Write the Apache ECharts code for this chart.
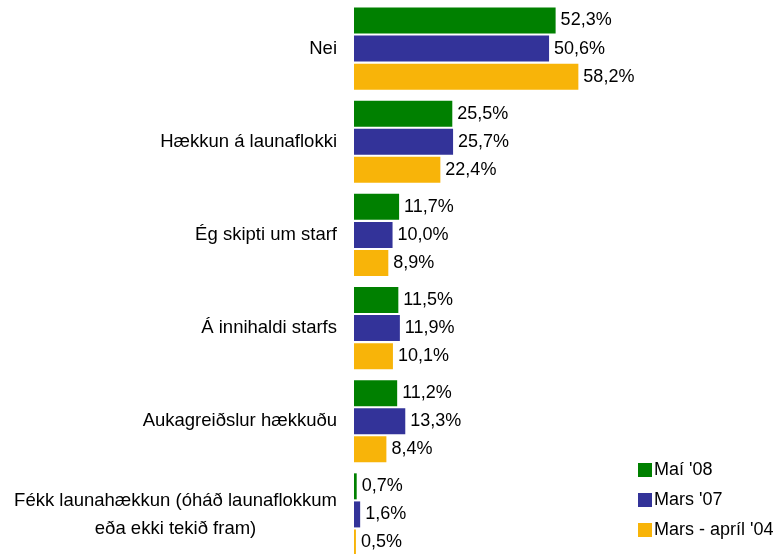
<!DOCTYPE html>
<html>
<head>
<meta charset="utf-8">
<script src="https://cdn.jsdelivr.net/npm/echarts@6/dist/echarts.min.js"></script>
<style>html,body{margin:0;padding:0;background:#fff;overflow:hidden}#c{width:779px;height:562px}</style>
</head>
<body>
<div id="c"></div>
<script>
var categories = [
  "Nei",
  "Hækkun á launaflokki",
  "Ég skipti um starf",
  "Á innihaldi starfs",
  "Aukagreiðslur hækkuðu",
  "Fékk launahækkun (óháð launaflokkum\neða ekki tekið fram)"
];
var seriesNames = ["Maí '08", "Mars '07", "Mars - apríl '04"];
var may08 = [52.3, 25.5, 11.7, 11.5, 11.2, 0.7];
var mar07 = [50.6, 25.7, 10.0, 11.9, 13.3, 1.6];
var mar04 = [58.2, 22.4, 8.9, 10.1, 8.4, 0.5];
var colors = ["#008000", "#333399", "#F8B409"];

var FONT = "Liberation Sans, Arial, sans-serif";
var chart = echarts.init(document.getElementById('c'), null, {renderer: 'canvas'});

function mk(name, data, color) {
  return {
    name: name,
    type: 'bar',
    data: data,
    barWidth: 26,
    barGap: '8%',
    barCategoryGap: '12%',
    itemStyle: {color: color},
    label: {
      show: true,
      position: 'right',
      distance: 5,
      color: '#000',
      fontFamily: FONT,
      fontSize: 18,
      formatter: function (p) { return p.value.toFixed(1).replace('.', ',') + '%'; }
    },
    emphasis: {disabled: true},
    animation: false
  };
}

chart.setOption({
  animation: false,
  grid: {left: 354, top: 2, width: 385.5, height: 559, containLabel: false},
  xAxis: {type: 'value', min: 0, max: 100, show: false},
  yAxis: {
    type: 'category',
    data: categories,
    inverse: true,
    axisLine: {show: false},
    axisTick: {show: false},
    axisLabel: {
      margin: 17,
      color: '#000',
      fontFamily: FONT,
      fontSize: 18.5,
      lineHeight: 28,
      formatter: function (v) {
        return v.split('\n').map(function (l) { return '{c|' + l + '}'; }).join('\n');
      },
      rich: {c: {align: 'center', fontFamily: FONT, fontSize: 18.5, color: '#000', lineHeight: 28}}
    }
  },
  legend: {
    orient: 'vertical',
    left: 638,
    top: 461,
    padding: 0,
    itemWidth: 14,
    itemHeight: 14,
    itemGap: 12,
    icon: 'rect',
    textStyle: {fontFamily: FONT, fontSize: 18, lineHeight: 18, color: '#000', padding: [0, 0, 0, -3]},
    data: seriesNames,
    selectedMode: false
  },
  series: [mk(seriesNames[0], may08, colors[0]), mk(seriesNames[1], mar07, colors[1]), mk(seriesNames[2], mar04, colors[2])]
});
</script>
</body>
</html>
